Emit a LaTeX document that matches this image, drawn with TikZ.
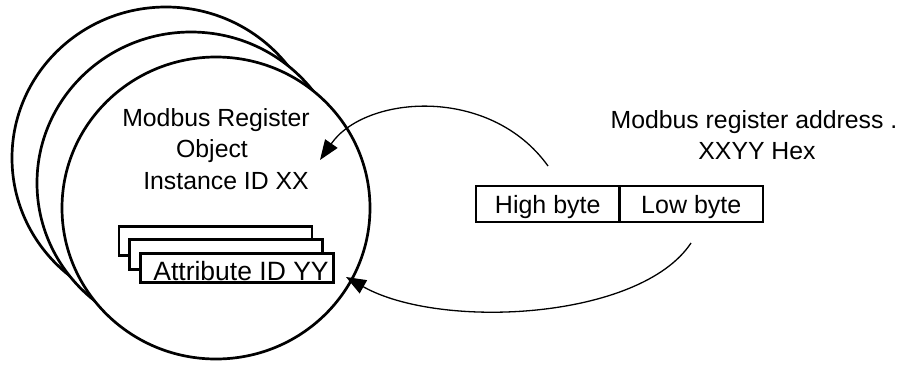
\documentclass[tikz,border=0pt]{standalone}
\usepackage{fontspec}
\setmainfont{Liberation Sans}
\usetikzlibrary{arrows.meta,shapes.geometric}
\begin{document}
\begin{tikzpicture}[x=1pt,y=-1pt,
  lbl/.style={font=\fontsize{24.8}{30}\selectfont, inner sep=0pt, anchor=base},
  ring/.style={draw, ellipse, line width=2.7pt, fill=white, inner sep=0pt,
               minimum width=308pt, minimum height=302pt},
  card/.style={draw, line width=2.7pt, fill=white, inner sep=0pt,
               minimum width=193pt, minimum height=29.5pt},
  bytebox/.style={draw, line width=2.7pt, inner sep=0pt,
               minimum width=143.5pt, minimum height=36pt,
               font=\fontsize{25}{30}\selectfont, text height=22pt, text depth=4pt},
  link/.style={line width=1.3pt, -{Triangle[length=20pt,width=15pt]}}]
\useasboundingbox (0,0) rectangle (904,367);
% object instances
\node[ring] (obj3) at (166,158) {};
\node[ring] (obj2) at (191,183) {};
\node[ring] (obj1) at (216,208) {};
\node[lbl] (l1) at (216,126) {Modbus Register};
\node[lbl] (l2) at (212,157) {Object};
\node[lbl] (l3) at (226,189) {Instance ID XX};
% attribute cards
\node[card] (c3) at (215.5,241) {};
\node[card] (c2) at (226,254.5) {};
\node[card] (c1) at (236.7,268) {};
\node[lbl, font=\fontsize{26.5}{31}\selectfont] (ca) at (241,280.5) {Attribute ID YY};
% register address
\node[lbl] (r1) at (754,128) {Modbus register address .};
\node[lbl] (r2) at (757,159) {XXYY Hex};
\node[bytebox] (hb) at (547.75,204) {High byte};
\node[bytebox] (lb) at (691.25,204) {Low byte};
% connectors
\coordinate (s1) at (548,166);
\coordinate (e1) at (320,160);
\coordinate (s2) at (691,243);
\coordinate (e2) at (346,277);
\draw[link] (s1) .. controls (490,85) and (365,95) .. (e1);
\draw[link] (s2) .. controls (640,320) and (440,330) .. (e2);
\end{tikzpicture}
\end{document}
